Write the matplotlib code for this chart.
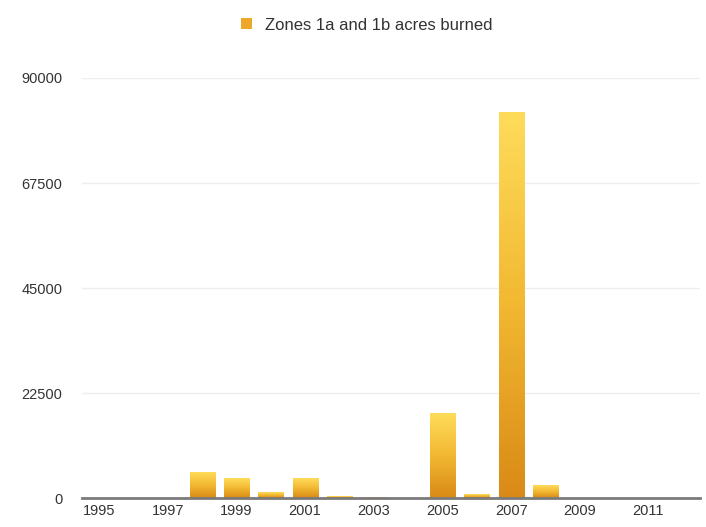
import numpy as np
import matplotlib
matplotlib.use("Agg")
import matplotlib.pyplot as plt
from matplotlib.colors import LinearSegmentedColormap
from matplotlib.patches import Patch

plt.rcParams["font.family"] = ["Liberation Sans", "DejaVu Sans"]

# ==========================================
# DATA
# ==========================================
years = list(range(1995, 2013))
acres = [0, 0, 0, 5500, 4200, 1100, 4100, 300, 100, 0,
         18200, 700, 82700, 2600, 0, 0, 0, 0]
tick_years = list(range(1995, 2012, 2))
y_ticks = [0, 22500, 45000, 67500, 90000]
legend_label = "Zones 1a and 1b acres burned"

# ==========================================
# PLOT
# ==========================================
fig = plt.figure(figsize=(7.06, 5.27), dpi=100)
ax = fig.add_axes([0.116, 0.055, 0.8755, 0.797])

grad_cmap = LinearSegmentedColormap.from_list("gold", ["#d98a16", "#f2b832", "#fedc5a"])
gradient = np.linspace(0, 1, 256).reshape(-1, 1)

x = np.arange(len(years))
width = 0.73
bars = ax.bar(x, acres, width=width, color="none", edgecolor="none", zorder=3)
for rect, val in zip(bars, acres):
    if val <= 0:
        continue
    x0 = rect.get_x()
    ax.imshow(gradient, extent=[x0, x0 + width, 0, val], origin="lower",
              aspect="auto", cmap=grad_cmap, zorder=3)

ax.set_xlim(-0.5, len(years) - 0.5)
ax.set_ylim(0, 90000)
ax.set_yticks(y_ticks)
ax.set_yticklabels([str(v) for v in y_ticks])
ax.set_xticks([years.index(y) for y in tick_years])
ax.set_xticklabels([str(y) for y in tick_years])

ax.grid(axis="y", color="#eeeeee", linewidth=1.0, zorder=0)
for side in ["top", "right", "left"]:
    ax.spines[side].set_visible(False)
ax.spines["bottom"].set_color("#7a7a7a")
ax.spines["bottom"].set_linewidth(2.0)
ax.spines["bottom"].set_zorder(4)
ax.tick_params(axis="both", length=0, labelsize=10.5, colors="#333333")
ax.yaxis.set_tick_params(pad=14)
ax.xaxis.set_tick_params(pad=4)

handle = Patch(facecolor="#eda72a", edgecolor="none")
fig.legend([handle], [legend_label], loc="upper center", bbox_to_anchor=(0.52, 0.995),
           frameon=False, fontsize=12, handlelength=0.65, handleheight=0.65,
           handletextpad=0.8, labelcolor="#333333")

plt.savefig("out.png", dpi=100)
plt.close()
